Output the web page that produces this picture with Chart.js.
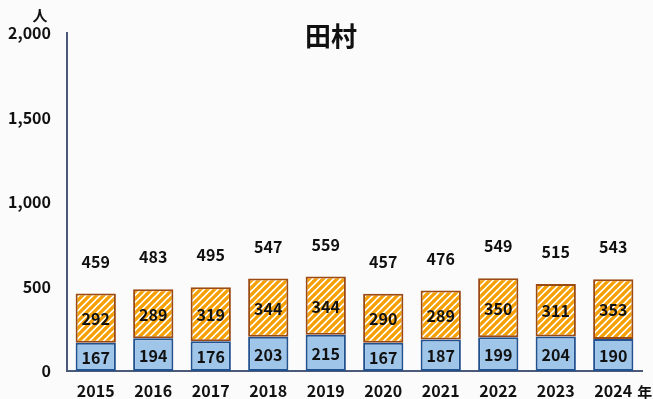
<!DOCTYPE html>
<html>
<head>
<meta charset="utf-8">
<script src="https://cdn.jsdelivr.net/npm/chart.js@4"></script>
<style>
  html, body { margin: 0; padding: 0; background: #fbfbfb; }
  #wrap { width: 653px; height: 399px; }
</style>
</head>
<body>
<div id="wrap"><canvas id="chart" width="653" height="399"></canvas></div>
<script>
// 年度
const years = ["2015", "2016", "2017", "2018", "2019", "2020", "2021", "2022", "2023", "2024"]
// 下段（青）
const lower = [167, 194, 176, 203, 215, 167, 187, 199, 204, 190]
// 上段（斜線）
const upper = [292, 289, 319, 344, 344, 290, 289, 350, 311, 353]
// 合計
const totals = [459, 483, 495, 547, 559, 457, 476, 549, 515, 543]

const FONT = '"Noto Sans CJK JP", "Noto Sans", sans-serif'

// 斜線パターン
const makeStripes = () => {
    const size = 7
    const c = document.createElement("canvas")
    c.width = size
    c.height = size
    const g = c.getContext("2d")
    g.fillStyle = "#ffffff"
    g.fillRect(0, 0, size, size)
    g.strokeStyle = "#f5a000"
    g.lineWidth = 3.3
    g.beginPath()
    g.moveTo(-1, size + 1); g.lineTo(size + 1, -1)
    g.moveTo(-1, 1); g.lineTo(1, -1)
    g.moveTo(size - 1, size + 1); g.lineTo(size + 1, size - 1)
    g.stroke()
    return g.createPattern(c, "repeat")
}

const labelPlugin = {
    id: "labels",
    afterDatasetsDraw(chart) {
        const ctx = chart.ctx
        ctx.save()
        ctx.fillStyle = "#111"
        ctx.font = "bold 16px " + FONT
        ctx.textAlign = "center"
        ctx.textBaseline = "middle"
        chart.data.datasets.forEach((ds, di) => {
            chart.getDatasetMeta(di).data.forEach((bar, i) => {
                const mid = (bar.y + bar.base) / 2
                ctx.fillText(String(ds.data[i]), bar.x, mid + 1)
            })
        })
        const top = chart.getDatasetMeta(1).data
        top.forEach((bar, i) => {
            ctx.fillText(String(totals[i]), bar.x, bar.y - 32)
        })
        // 単位
        const xs = chart.scales.x
        const last = top[top.length - 1]
        ctx.textAlign = "left"
        ctx.font = "bold 15px " + FONT
        ctx.fillText("年", last.x + 24, xs.bottom - 7)
        ctx.textAlign = "center"
        ctx.fillText("人", 40, 15)
        // タイトル
        ctx.font = "bold 26px " + FONT
        ctx.fillText("田村", 331, 36)
        ctx.restore()
    }
}

const stripes = makeStripes()

new Chart(document.getElementById("chart"), {
    type: "bar",
    data: {
        labels: years,
        datasets: [
            {
                label: "下段",
                data: lower,
                backgroundColor: "#9fc5e8",
                borderColor: "#21528f",
                borderWidth: 2,
                borderSkipped: false
            },
            {
                label: "上段",
                data: upper,
                backgroundColor: stripes,
                borderColor: "#9c4a14",
                borderWidth: 2,
                borderSkipped: false
            }
        ]
    },
    plugins: [labelPlugin],
    options: {
        responsive: false,
        animation: false,
        layout: { padding: { top: 33, right: 11, left: 0, bottom: 0 } },
        plugins: {
            legend: { display: false },
            tooltip: { enabled: false }
        },
        datasets: {
            bar: { barPercentage: 0.7, categoryPercentage: 1 }
        },
        scales: {
            x: {
                stacked: true,
                grid: { display: false, drawTicks: false },
                border: { display: true, color: "#4b5a78", width: 2 },
                ticks: {
                    color: "#111",
                    font: { family: FONT, size: 16, weight: "bold" },
                    padding: 10,
                    maxRotation: 0
                },
                afterFit: (s) => { s.height = 28 }
            },
            y: {
                stacked: true,
                min: 0,
                max: 2000,
                grid: { display: false, drawTicks: false },
                border: { display: true, color: "#4b5a78", width: 2 },
                ticks: {
                    stepSize: 500,
                    color: "#111",
                    font: { family: FONT, size: 16, weight: "bold" },
                    padding: 16,
                    callback: (v) => v.toLocaleString("en-US")
                },
                afterFit: (s) => { s.width = 67 }
            }
        }
    }
})
</script>
</body>
</html>
